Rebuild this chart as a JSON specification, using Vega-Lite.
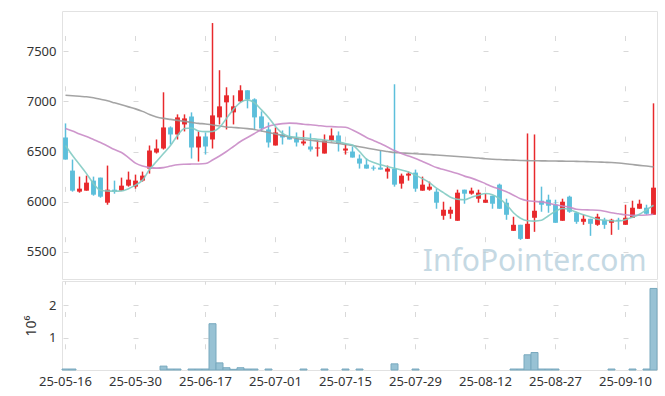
{
"$schema": "https://vega.github.io/schema/vega-lite/v6.json",
"autosize": {"type": "pad"},
"padding": {"left": 24, "top": 10, "right": 8, "bottom": 5},
"spacing": 0,
"data": {"values": [
{"date":"25-05-16","open":6640,"high":6780,"low":6420,"close":6420,"volume":30000,"ma5":6560,"ma20":6730,"ma60":7060},
{"date":"25-05-19","open":6310,"high":6420,"low":6100,"close":6110,"volume":30000,"ma5":6460,"ma20":6705,"ma60":7055},
{"date":"25-05-20","open":6100,"high":6250,"low":6090,"close":6130,"volume":null,"ma5":6370,"ma20":6675,"ma60":7050},
{"date":"25-05-21","open":6110,"high":6260,"low":6110,"close":6190,"volume":null,"ma5":6280,"ma20":6650,"ma60":7045},
{"date":"25-05-22","open":6210,"high":6250,"low":6060,"close":6070,"volume":null,"ma5":6180,"ma20":6620,"ma60":7035},
{"date":"25-05-23","open":6240,"high":6240,"low":6040,"close":6050,"volume":null,"ma5":6115,"ma20":6590,"ma60":7020},
{"date":"25-05-26","open":5990,"high":6360,"low":5970,"close":6120,"volume":null,"ma5":6107,"ma20":6555,"ma60":7005},
{"date":"25-05-27","open":6120,"high":6210,"low":6080,"close":6100,"volume":null,"ma5":6105,"ma20":6520,"ma60":6985},
{"date":"25-05-28","open":6110,"high":6240,"low":6110,"close":6160,"volume":null,"ma5":6107,"ma20":6490,"ma60":6965},
{"date":"25-05-29","open":6160,"high":6300,"low":6150,"close":6220,"volume":null,"ma5":6130,"ma20":6440,"ma60":6945},
{"date":"25-05-30","open":6150,"high":6270,"low":6130,"close":6210,"volume":null,"ma5":6165,"ma20":6385,"ma60":6925},
{"date":"25-06-02","open":6210,"high":6300,"low":6200,"close":6260,"volume":null,"ma5":6215,"ma20":6355,"ma60":6900},
{"date":"25-06-04","open":6330,"high":6560,"low":6280,"close":6510,"volume":null,"ma5":6320,"ma20":6340,"ma60":6870},
{"date":"25-06-05","open":6490,"high":6620,"low":6480,"close":6530,"volume":null,"ma5":6400,"ma20":6335,"ma60":6845},
{"date":"25-06-09","open":6530,"high":7090,"low":6520,"close":6740,"volume":120000,"ma5":6480,"ma20":6340,"ma60":6830},
{"date":"25-06-10","open":6740,"high":6750,"low":6570,"close":6670,"volume":30000,"ma5":6560,"ma20":6355,"ma60":6820},
{"date":"25-06-11","open":6670,"high":6870,"low":6620,"close":6840,"volume":30000,"ma5":6660,"ma20":6368,"ma60":6810},
{"date":"25-06-12","open":6770,"high":6870,"low":6700,"close":6830,"volume":null,"ma5":6730,"ma20":6373,"ma60":6800},
{"date":"25-06-13","open":6850,"high":6890,"low":6430,"close":6540,"volume":30000,"ma5":6735,"ma20":6375,"ma60":6790},
{"date":"25-06-16","open":6540,"high":6700,"low":6400,"close":6650,"volume":30000,"ma5":6705,"ma20":6376,"ma60":6780},
{"date":"25-06-17","open":6650,"high":6690,"low":6470,"close":6550,"volume":30000,"ma5":6698,"ma20":6380,"ma60":6775},
{"date":"25-06-18","open":6620,"high":7780,"low":6530,"close":6860,"volume":1430000,"ma5":6700,"ma20":6415,"ma60":6765},
{"date":"25-06-19","open":6840,"high":7310,"low":6770,"close":6950,"volume":220000,"ma5":6740,"ma20":6455,"ma60":6755},
{"date":"25-06-20","open":6990,"high":7140,"low":6720,"close":7060,"volume":70000,"ma5":6830,"ma20":6500,"ma60":6745},
{"date":"25-06-23","open":6890,"high":7060,"low":6770,"close":6950,"volume":20000,"ma5":6920,"ma20":6550,"ma60":6740},
{"date":"25-06-24","open":7000,"high":7160,"low":6990,"close":7110,"volume":70000,"ma5":6990,"ma20":6600,"ma60":6735},
{"date":"25-06-25","open":7110,"high":7110,"low":6930,"close":7020,"volume":30000,"ma5":7015,"ma20":6640,"ma60":6728},
{"date":"25-06-26","open":7020,"high":7030,"low":6720,"close":6840,"volume":30000,"ma5":6985,"ma20":6680,"ma60":6720},
{"date":"25-06-27","open":6850,"high":6900,"low":6700,"close":6730,"volume":null,"ma5":6915,"ma20":6720,"ma60":6705},
{"date":"25-06-30","open":6720,"high":6790,"low":6540,"close":6590,"volume":30000,"ma5":6840,"ma20":6752,"ma60":6690},
{"date":"25-07-01","open":6560,"high":6740,"low":6560,"close":6690,"volume":null,"ma5":6750,"ma20":6768,"ma60":6675},
{"date":"25-07-02","open":6670,"high":6710,"low":6570,"close":6640,"volume":null,"ma5":6680,"ma20":6778,"ma60":6660},
{"date":"25-07-03","open":6650,"high":6750,"low":6620,"close":6620,"volume":null,"ma5":6650,"ma20":6783,"ma60":6645},
{"date":"25-07-04","open":6630,"high":6690,"low":6550,"close":6590,"volume":null,"ma5":6642,"ma20":6780,"ma60":6630},
{"date":"25-07-07","open":6580,"high":6710,"low":6560,"close":6600,"volume":30000,"ma5":6636,"ma20":6772,"ma60":6620},
{"date":"25-07-08","open":6550,"high":6680,"low":6500,"close":6520,"volume":null,"ma5":6630,"ma20":6766,"ma60":6612},
{"date":"25-07-09","open":6530,"high":6610,"low":6450,"close":6540,"volume":null,"ma5":6622,"ma20":6760,"ma60":6604},
{"date":"25-07-10","open":6480,"high":6670,"low":6480,"close":6610,"volume":30000,"ma5":6615,"ma20":6752,"ma60":6596},
{"date":"25-07-11","open":6610,"high":6730,"low":6600,"close":6660,"volume":null,"ma5":6607,"ma20":6748,"ma60":6588},
{"date":"25-07-14","open":6660,"high":6700,"low":6500,"close":6580,"volume":null,"ma5":6598,"ma20":6745,"ma60":6580},
{"date":"25-07-15","open":6510,"high":6580,"low":6470,"close":6530,"volume":30000,"ma5":6580,"ma20":6742,"ma60":6570},
{"date":"25-07-16","open":6500,"high":6550,"low":6440,"close":6440,"volume":null,"ma5":6565,"ma20":6715,"ma60":6560},
{"date":"25-07-17","open":6430,"high":6470,"low":6330,"close":6380,"volume":30000,"ma5":6500,"ma20":6680,"ma60":6548},
{"date":"25-07-18","open":6370,"high":6430,"low":6330,"close":6330,"volume":null,"ma5":6425,"ma20":6640,"ma60":6535},
{"date":"25-07-21","open":6340,"high":6360,"low":6310,"close":6330,"volume":null,"ma5":6390,"ma20":6610,"ma60":6522},
{"date":"25-07-22","open":6340,"high":6510,"low":6320,"close":6320,"volume":null,"ma5":6368,"ma20":6580,"ma60":6510},
{"date":"25-07-23","open":6300,"high":6360,"low":6230,"close":6330,"volume":null,"ma5":6350,"ma20":6545,"ma60":6500},
{"date":"25-07-24","open":6330,"high":7170,"low":6150,"close":6170,"volume":190000,"ma5":6333,"ma20":6510,"ma60":6490},
{"date":"25-07-25","open":6180,"high":6280,"low":6130,"close":6260,"volume":null,"ma5":6315,"ma20":6480,"ma60":6486},
{"date":"25-07-28","open":6260,"high":6300,"low":6210,"close":6280,"volume":null,"ma5":6295,"ma20":6455,"ma60":6482},
{"date":"25-07-29","open":6290,"high":6320,"low":6100,"close":6130,"volume":30000,"ma5":6265,"ma20":6430,"ma60":6478},
{"date":"25-07-30","open":6110,"high":6250,"low":6110,"close":6170,"volume":null,"ma5":6230,"ma20":6400,"ma60":6474},
{"date":"25-07-31","open":6120,"high":6200,"low":6110,"close":6150,"volume":null,"ma5":6190,"ma20":6370,"ma60":6470},
{"date":"25-08-01","open":6100,"high":6130,"low":5930,"close":5990,"volume":null,"ma5":6135,"ma20":6340,"ma60":6465},
{"date":"25-08-04","open":5860,"high":6000,"low":5820,"close":5920,"volume":null,"ma5":6090,"ma20":6320,"ma60":6460},
{"date":"25-08-05","open":5880,"high":5950,"low":5830,"close":5920,"volume":null,"ma5":6045,"ma20":6300,"ma60":6455},
{"date":"25-08-06","open":5810,"high":6120,"low":5810,"close":6090,"volume":null,"ma5":6025,"ma20":6280,"ma60":6450},
{"date":"25-08-07","open":6120,"high":6120,"low":5980,"close":6080,"volume":null,"ma5":6020,"ma20":6255,"ma60":6445},
{"date":"25-08-08","open":6080,"high":6140,"low":6070,"close":6110,"volume":null,"ma5":6045,"ma20":6235,"ma60":6440},
{"date":"25-08-11","open":6030,"high":6120,"low":5990,"close":6090,"volume":null,"ma5":6065,"ma20":6210,"ma60":6435},
{"date":"25-08-12","open":5990,"high":6080,"low":5990,"close":6020,"volume":null,"ma5":6082,"ma20":6180,"ma60":6428},
{"date":"25-08-13","open":6060,"high":6060,"low":5930,"close":5980,"volume":null,"ma5":6070,"ma20":6150,"ma60":6423},
{"date":"25-08-14","open":6170,"high":6180,"low":5930,"close":5930,"volume":null,"ma5":6030,"ma20":6125,"ma60":6420},
{"date":"25-08-18","open":5990,"high":6030,"low":5820,"close":5870,"volume":null,"ma5":5970,"ma20":6100,"ma60":6417},
{"date":"25-08-19","open":5710,"high":5850,"low":5710,"close":5770,"volume":30000,"ma5":5890,"ma20":6065,"ma60":6414},
{"date":"25-08-20","open":5770,"high":5770,"low":5620,"close":5630,"volume":30000,"ma5":5835,"ma20":6030,"ma60":6411},
{"date":"25-08-21","open":5630,"high":6680,"low":5630,"close":5780,"volume":470000,"ma5":5810,"ma20":6010,"ma60":6409},
{"date":"25-08-22","open":5840,"high":6670,"low":5700,"close":5910,"volume":540000,"ma5":5807,"ma20":6003,"ma60":6408},
{"date":"25-08-25","open":6010,"high":6150,"low":5900,"close":5970,"volume":30000,"ma5":5815,"ma20":5998,"ma60":6407},
{"date":"25-08-26","open":6020,"high":6070,"low":5890,"close":5960,"volume":30000,"ma5":5860,"ma20":5985,"ma60":6406},
{"date":"25-08-27","open":5970,"high":6020,"low":5790,"close":5790,"volume":30000,"ma5":5905,"ma20":5970,"ma60":6405},
{"date":"25-08-28","open":5810,"high":6030,"low":5810,"close":6000,"volume":null,"ma5":5933,"ma20":5958,"ma60":6404},
{"date":"25-08-29","open":6050,"high":6060,"low":5890,"close":5900,"volume":null,"ma5":5922,"ma20":5945,"ma60":6403},
{"date":"25-09-01","open":5890,"high":5900,"low":5780,"close":5800,"volume":null,"ma5":5895,"ma20":5925,"ma60":6402},
{"date":"25-09-02","open":5800,"high":5870,"low":5770,"close":5830,"volume":null,"ma5":5870,"ma20":5920,"ma60":6400},
{"date":"25-09-03","open":5830,"high":5830,"low":5660,"close":5780,"volume":null,"ma5":5848,"ma20":5918,"ma60":6398},
{"date":"25-09-04","open":5770,"high":5880,"low":5760,"close":5850,"volume":null,"ma5":5825,"ma20":5915,"ma60":6396},
{"date":"25-09-05","open":5820,"high":5840,"low":5730,"close":5770,"volume":null,"ma5":5815,"ma20":5905,"ma60":6393},
{"date":"25-09-08","open":5790,"high":5830,"low":5670,"close":5820,"volume":30000,"ma5":5810,"ma20":5890,"ma60":6390},
{"date":"25-09-09","open":5820,"high":5840,"low":5720,"close":5810,"volume":null,"ma5":5808,"ma20":5880,"ma60":6385},
{"date":"25-09-10","open":5770,"high":5970,"low":5770,"close":5840,"volume":null,"ma5":5820,"ma20":5870,"ma60":6378},
{"date":"25-09-11","open":5840,"high":6010,"low":5840,"close":5940,"volume":30000,"ma5":5845,"ma20":5865,"ma60":6370},
{"date":"25-09-12","open":5930,"high":6020,"low":5930,"close":5980,"volume":null,"ma5":5875,"ma20":5865,"ma60":6362},
{"date":"25-09-15","open":5940,"high":5970,"low":5870,"close":5880,"volume":30000,"ma5":5920,"ma20":5868,"ma60":6355},
{"date":"25-09-16","open":5870,"high":6980,"low":5870,"close":6140,"volume":2520000,"ma5":5965,"ma20":5875,"ma60":6347}
]},
"resolve": {"scale": {"x": "shared"}},
"vconcat": [
{
"width": 595, "height": 268,
"encoding": {
"x": {"field": "date", "type": "ordinal", "sort": null, "scale": {"paddingInner": 0, "paddingOuter": 0},
"axis": {"title": null, "labels": false, "ticks": false, "domain": false, "grid": true, "values": ["25-05-16","25-05-30","25-06-17","25-07-01","25-07-15","25-07-29","25-08-12","25-08-27","25-09-10"], "gridDash": [5, 45.3], "gridDashOffset": 25.8}}
},
"layer": [
{"mark": {"type": "rule", "strokeWidth": 1.5},
"encoding": {
"y": {"field": "low", "type": "quantitative", "scale": {"domain": [5230, 7900], "nice": false, "zero": false},
"axis": {"title": null, "values": [5500, 6000, 6500, 7000, 7500], "format": "d", "labelPadding": 6, "gridDash": [5, 65], "gridDashOffset": 69}},
"y2": {"field": "high"},
"color": {"condition": {"test": "datum.close >= datum.open", "value": "#e8292c"}, "value": "#5cbfdb"}
}},
{"mark": {"type": "bar", "width": {"band": 0.7}},
"encoding": {
"y": {"field": "open", "type": "quantitative"},
"y2": {"field": "close"},
"color": {"condition": {"test": "datum.close >= datum.open", "value": "#e8292c"}, "value": "#5cbfdb"}
}},
{"mark": {"type": "line", "color": "#9a9a9a", "strokeWidth": 1.6, "interpolate": "monotone", "opacity": 0.9},
"encoding": {"y": {"field": "ma60", "type": "quantitative"}}},
{"mark": {"type": "line", "color": "#c98bc6", "strokeWidth": 1.6, "interpolate": "monotone", "opacity": 0.9},
"encoding": {"y": {"field": "ma20", "type": "quantitative"}}},
{"mark": {"type": "line", "color": "#82cbc3", "strokeWidth": 1.6, "interpolate": "monotone", "opacity": 0.9},
"encoding": {"y": {"field": "ma5", "type": "quantitative"}}},
{"data": {"values": [{"label": "InfoPointer.com", "day": "25-09-15", "level": 5305}]},
"mark": {"type": "text", "align": "right", "baseline": "alphabetic", "font": "Noto Sans", "fontSize": 30, "color": "#b7d0dd", "opacity": 0.8},
"encoding": {"x": {"field": "day", "type": "ordinal"}, "y": {"field": "level", "type": "quantitative"}, "text": {"field": "label"}}}
]
},
{
"width": 595, "height": 89,
"mark": {"type": "bar", "color": "#98c2d4", "stroke": "#78a9be", "strokeWidth": 1, "width": {"band": 1}},
"encoding": {
"x": {"field": "date", "type": "ordinal", "sort": null, "scale": {"paddingInner": 0, "paddingOuter": 0},
"axis": {"title": null, "labelAngle": 0, "labelPadding": 5, "values": ["25-05-16","25-05-30","25-06-17","25-07-01","25-07-15","25-07-29","25-08-12","25-08-27","25-09-10"], "grid": true, "gridDash": [5, 27.3], "gridDashOffset": 1.8}},
"y": {"field": "volume", "type": "quantitative", "scale": {"domain": [0, 2750000], "nice": false},
"axis": {"title": "10⁶", "titleFontWeight": "normal", "titleFontSize": 14, "titleFont": "Noto Sans", "titleColor": "#333333", "titlePadding": 10, "values": [1000000, 2000000], "labelExpr": "datum.value / 1000000", "labelPadding": 6, "gridDash": [5, 65], "gridDashOffset": 69}}
}
}
],
"config": {
"view": {"stroke": "#e2e2e2"},
"axis": {"labelFont": "Noto Sans", "labelFontSize": 13, "labelColor": "#333333", "ticks": false, "domain": false, "gridColor": "#d9d9d9", "gridWidth": 1}
}
}
